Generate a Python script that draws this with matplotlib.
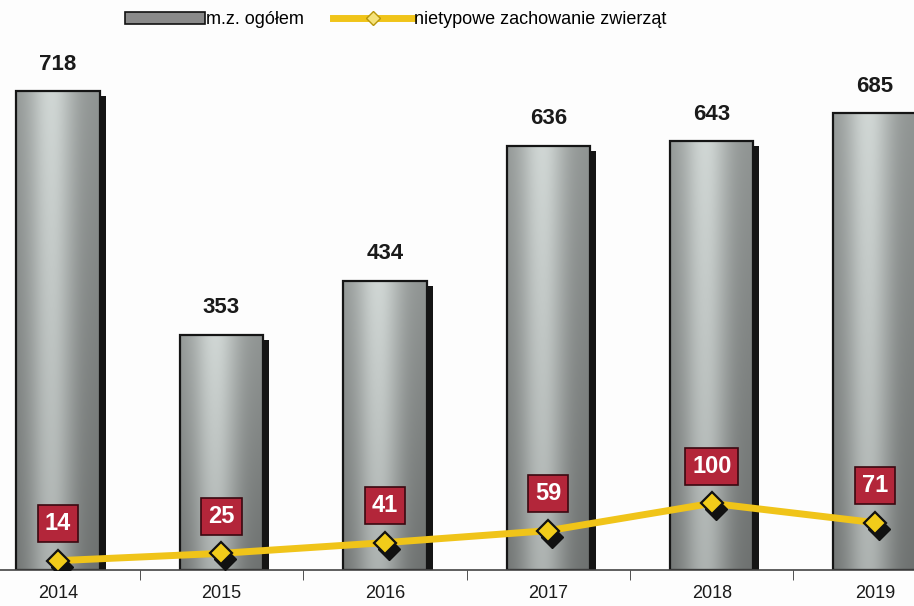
import numpy as np
import matplotlib
matplotlib.use("Agg")
import matplotlib.pyplot as plt
from matplotlib.patches import Patch
from matplotlib.lines import Line2D
from matplotlib.transforms import offset_copy

plt.rcParams["font.family"] = ["Liberation Sans", "DejaVu Sans"]

years = ["2014", "2015", "2016", "2017", "2018", "2019"]
total = [718, 353, 434, 636, 643, 685]
animals = [14, 25, 41, 59, 100, 71]
lab_total = "m.z. ogółem"
lab_animals = "nietypowe zachowanie zwierząt"

C_LINE = "#f0c419"
C_BOX = "#b3263a"

fig = plt.figure(figsize=(9.14, 6.06), dpi=100, facecolor="#fdfdfd")
ax = fig.add_axes([0, 36 / 606, 1, 570 / 606])
ax.set_facecolor("none")
x = np.arange(len(years))
w = 0.51

# shadow behind bars
sh = offset_copy(ax.transData, fig=fig, x=6, y=-5, units="dots")
ax.bar(x, total, w, color="#151515", transform=sh, zorder=1)
bars = ax.bar(x, total, w, color="#8c908e", zorder=2)

# gray gradient inside the bars (dark edges, light band left of centre)
gx = np.linspace(0, 1, 80)[None, :]
gy = np.linspace(0, 1, 200)[:, None]
v = 0.44 + 0.14 * gy + 0.26 * np.exp(-((gx - 0.42) / 0.28) ** 2)
v = np.clip(v, 0, 0.86)
grad = np.dstack([v * 0.97, v * 1.0, v * 0.99])
for b in bars:
    im = ax.imshow(grad, extent=[b.get_x(), b.get_x() + b.get_width(), b.get_height(), 0],
                   origin="upper", aspect="auto", zorder=2.1)
    im.set_clip_path(b)
ax.bar(x, total, w, fill=False, edgecolor="#151515", lw=1.6, zorder=2.2)

for i, v_ in enumerate(total):
    ax.annotate(str(v_), (i, v_), xytext=(0, 27), textcoords="offset pixels",
                ha="center", va="center", fontsize=16, fontweight="bold", color="#1a1a1a")

# line with shadowed diamonds
ax.plot(x, animals, color=C_LINE, lw=5, zorder=4)
msh = offset_copy(ax.transData, fig=fig, x=4, y=-6, units="dots")
ax.plot(x, animals, "D", ms=11, color="#111111", transform=msh, zorder=4.5)
ax.plot(x, animals, "D", ms=11, mfc="#f2cc1a", mec="#111111", mew=1.6, zorder=5)

for i, v_ in enumerate(animals):
    ax.annotate(str(v_), (i, v_), xytext=(0, 37), textcoords="offset pixels",
                ha="center", va="center", fontsize=17, fontweight="bold", color="white",
                bbox=dict(boxstyle="square,pad=0.3", fc=C_BOX, ec="#3a0810", lw=1.2),
                zorder=6)

ax.set_xlim(-0.355, 5.238)
ax.set_ylim(0, 855)
ax.set_xticks(x, years, fontsize=13)
ax.set_xticks(x[:-1] + 0.5, minor=True)
ax.tick_params(axis="x", which="major", length=0, pad=11, colors="#1a1a1a")
ax.tick_params(axis="x", which="minor", length=7, color="#333333")
ax.set_yticks([])
for s in ("left", "top", "right"):
    ax.spines[s].set_visible(False)
ax.spines["bottom"].set_color("#444444")
ax.spines["bottom"].set_linewidth(1.2)

handles = [Patch(fc="#8a8a8a", ec="#111111", lw=1.2),
           Line2D([], [], color=C_LINE, lw=5, marker="D", ms=7, mfc="#f5e27a", mec="#b8960a")]
fig.legend(handles, [lab_total, lab_animals], loc="center",
           bbox_to_anchor=(396 / 914, 1 - 20 / 606), ncol=2, frameon=False, fontsize=13,
           handlelength=4.4, handleheight=0.6, columnspacing=1.6, handletextpad=0.1)

fig.savefig("out.png", dpi=100, facecolor=fig.get_facecolor())
